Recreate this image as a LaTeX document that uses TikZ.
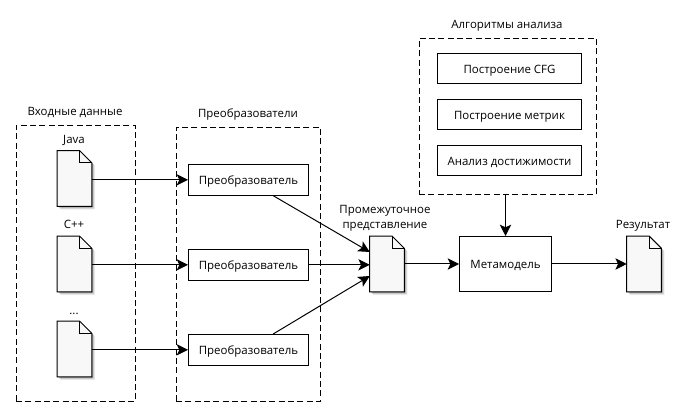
\documentclass[tikz,border=0pt]{standalone}
\usepackage{fontspec}
\setmainfont{Open Sans}
\usetikzlibrary{arrows.meta}
\definecolor{docfill}{HTML}{F8F8F8}
\tikzset{
  x=0.75pt,y=-0.75pt,
  every node/.style={font=\fontsize{8.6}{11.2}\selectfont,text=black,inner sep=0pt},
  txt/.style={text height=8.6pt,text depth=1.8pt},
  frame/.style={draw=black,line width=0.75pt,dash pattern=on 4.5pt off 2.5pt},
  box/.style={draw=black,line width=0.75pt,fill=white,anchor=north west},
  docanchor/.style={minimum width=25.5pt,minimum height=41.25pt,anchor=center},
  arrow/.style={draw=black,line width=0.75pt,-{Stealth[length=8.5pt,width=8.5pt,inset=2pt]}},
  lbl/.style={align=center}
}
\newcommand{\docshape}[3]{%
  \node[docanchor] (#1) at (#2,#3) {};
  \foreach \s/\o in {2.6/.06,2.0/.09,1.4/.12,0.8/.14}{
    \fill[black,opacity=\o]
      ([xshift=\s pt,yshift=-\s pt]#1.north west) -- ([xshift=\s pt-9pt,yshift=-\s pt]#1.north east)
      -- ([xshift=\s pt,yshift=-\s pt-9pt]#1.north east) -- ([xshift=\s pt,yshift=-\s pt]#1.south east)
      -- ([xshift=\s pt,yshift=-\s pt]#1.south west) -- cycle;
  }
  \draw[line width=0.75pt,fill=docfill]
    (#1.north west) -- ([xshift=-9pt]#1.north east) -- ([yshift=-9pt]#1.north east)
    -- (#1.south east) -- (#1.south west) -- cycle;
  \draw[line width=0.75pt] ([xshift=-9pt]#1.north east) -- ++(0,-9pt) -- ++(9pt,0);
}
\begin{document}
\begin{tikzpicture}
\useasboundingbox[fill=white] (0,0) rectangle (689,416);
% frames
\node[frame,box,fill=none,minimum width=89.5pt,minimum height=207pt] (inframe) at (15.5,125) {};
\node[frame,box,fill=none,minimum width=108.25pt,minimum height=205.5pt] (convframe) at (175.5,127) {};
\node[frame,box,fill=none,minimum width=133pt,minimum height=117pt] (algframe) at (418.5,38) {};
% frame titles
\node[lbl,txt] (tin) at (75,111) {Входные данные};
\node[lbl,txt] (tconv) at (248,113) {Преобразователи};
\node[lbl,txt] (talg) at (507,24) {Алгоритмы анализа};
% input docs
\node[lbl,txt] (ljava) at (74,139) {Java};
\node[lbl,txt] (lcpp) at (74,224) {C++};
\node[lbl,txt] (ldots) at (74,310) {...};
\docshape{djava}{74.5}{178.5}
\docshape{dcpp}{74.5}{264}
\docshape{ddots}{74.5}{349}
% converters
\node[box,minimum width=90pt,minimum height=23pt] (c1) at (188,164) {};
\node[txt] at (c1.center) {Преобразователь};
\node[box,minimum width=90pt,minimum height=23pt] (c2) at (188,249) {};
\node[txt] at (c2.center) {Преобразователь};
\node[box,minimum width=90pt,minimum height=23pt] (c3) at (188,334) {};
\node[txt] at (c3.center) {Преобразователь};
% algorithms
\node[box,minimum width=108pt,minimum height=22.5pt] (a1) at (437,53) {};
\node[txt] at (a1.center) {Построение CFG};
\node[box,minimum width=108pt,minimum height=22.5pt] (a2) at (437,99) {};
\node[txt] at (a2.center) {Построение метрик};
\node[box,minimum width=108pt,minimum height=22.5pt] (a3) at (437,145) {};
\node[txt] at (a3.center) {Анализ достижимости};
% intermediate, meta, result
\node[lbl] (lmid) at (385,218) {Промежуточное\\представление};
\docshape{dmid}{387}{264}
\node[box,minimum width=69pt,minimum height=41.25pt] (meta) at (459,236) {};
\node[txt] at (meta.center) {Метамодель};
\node[lbl,txt] (lres) at (643,224) {Результат};
\docshape{dres}{644}{264}
% connectors
\draw[arrow] (djava.east |- c1.west) -- (c1.west);
\draw[arrow] (dcpp.east |- c2.west) -- (c2.west);
\draw[arrow] (ddots.east |- c3.west) -- (c3.west);
\draw[arrow] ([xshift=18.5pt]c1.south) -- ([yshift=9pt]dmid.west);
\draw[arrow] (c2.east) -- (dmid.west |- c2.east);
\draw[arrow] ([xshift=18.5pt]c3.north) -- ([yshift=-9pt]dmid.west);
\draw[arrow] (dmid.east) -- (meta.west);
\draw[arrow] (meta.east) -- (dres.west);
\draw[arrow] (meta.north |- algframe.south) -- (meta.north);
\end{tikzpicture}
\end{document}
